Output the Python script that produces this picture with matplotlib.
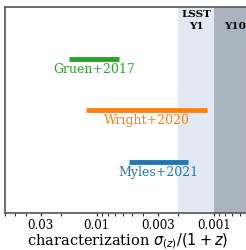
import numpy as np
import matplotlib
matplotlib.use('Agg')
import matplotlib.pyplot as plt

plt.rcParams['font.family'] = 'DejaVu Serif'

# survey requirement bands (sigma_z/(1+z))
y1_band = (0.002, 0.001)
y10_band = (0.001, 0.0004)

# published characterization ranges
names = ['Gruen+2017', 'Wright+2020', 'Myles+2021']
lo = [0.0173, 0.0122, 0.0053]
hi = [0.0064, 0.00113, 0.00167]
ypos = [3, 2, 1]
colors = ['#2ca02c', '#ff7f0e', '#1f77b4']

ticks = [0.03, 0.01, 0.003, 0.001]
tick_labels = ['0.03', '0.01', '0.003', '0.001']

fig = plt.figure(figsize=(2.46, 2.5), dpi=100)
ax = fig.add_axes([0.022, 0.148, 0.99, 0.824])

ax.axvspan(*y1_band, color='#e3e9f2', lw=0, zorder=0)
ax.axvspan(*y10_band, color='#aab4bf', lw=0, zorder=0)

for n, a, b, y, c in zip(names, lo, hi, ypos, colors):
    ax.hlines(y, a, b, color=c, lw=3.5)
    ax.text(np.sqrt(a * b), y - 0.08, n, color=c, ha='center', va='top', fontsize=9)

ax.text(np.sqrt(y1_band[0] * y1_band[1]), 3.94, 'LSST\nY1', ha='center', va='top',
        fontsize=7.5, fontweight='bold', linespacing=1.35)
ax.text(0.00066, 3.94, '\nY10', ha='center', va='top',
        fontsize=7.5, fontweight='bold', linespacing=1.35)

ax.set_xscale('log')
ax.set_xlim(0.06, 0.0005)
ax.set_ylim(0, 4)
ax.set_xticks(ticks)
ax.set_xticklabels(tick_labels, fontsize=8.5)
ax.set_yticks([])
ax.tick_params(axis='x', which='major', length=2.5, width=0.8, pad=1.5)
ax.tick_params(axis='x', which='minor', length=1.8, width=0.6)
ax.xaxis.set_minor_formatter(matplotlib.ticker.NullFormatter())
ax.set_xlabel(r'characterization $\sigma_{(z)}/(1+z)$', fontsize=10.5, labelpad=0)

for s in ax.spines.values():
    s.set_color('#555555')
    s.set_linewidth(1.2)

fig.savefig('out.png', dpi=100)
